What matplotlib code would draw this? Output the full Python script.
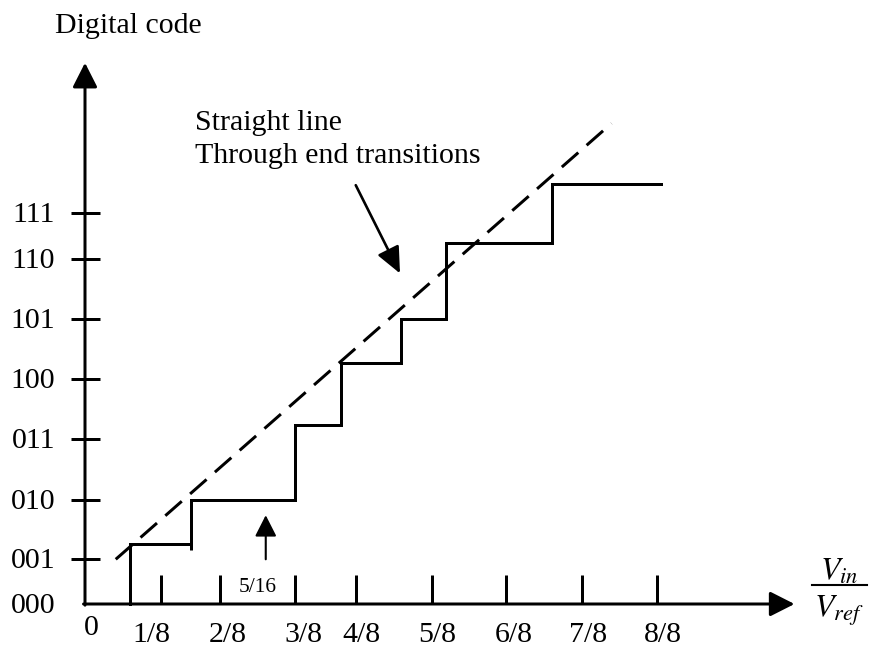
import matplotlib.pyplot as plt

plt.rcParams['font.family'] = ['Liberation Serif', 'DejaVu Serif']
plt.rcParams['mathtext.fontset'] = 'stix'

# units: x in LSB steps (1/8), y in code steps
x_tick_pos = [1.01, 1.80, 2.80, 3.61, 4.62, 5.61, 6.62, 7.62]
x_label_pos = [0.89, 1.91, 2.91, 3.69, 4.69, 5.71, 6.71, 7.71]
x_labels = ['1/8', '2/8', '3/8', '4/8', '5/8', '6/8', '7/8', '8/8']

y_tick_pos = [0.745, 1.733, 2.745, 3.745, 4.75, 5.75, 6.51]
y_labels = ['001', '010', '011', '100', '101', '110', '111']

# staircase transfer curve (hand drawn, so not exactly on the grid)
step_x = [0.60, 1.41, 2.80, 3.41, 4.21, 4.81, 6.22]
step_y = [1.00, 1.73, 2.98, 4.01, 4.75, 6.01, 7.00]
step_end = 7.68

# straight line through end transitions
ideal_x = [0.41, 7.02]
ideal_y = [0.745, 8.01]

x_axis_end = 9.46
y_axis_end = 9.02

LW = 2.16
FS = 21.5

fig = plt.figure(figsize=(8.69, 6.48), dpi=100)
ax = fig.add_axes([0, 0, 1, 1])
ax.set_xlim(-85 / 75, (869 - 85) / 75)
ax.set_ylim(-44 / 60, 604 / 60)
ax.axis('off')

# axes with arrow heads
arrow_kw = dict(arrowstyle='-|>,head_length=0.75,head_width=0.38', lw=LW,
                color='black', mutation_scale=20, shrinkA=0, shrinkB=0)
ax.annotate('', xy=(0, y_axis_end), xytext=(0, -0.02), arrowprops=arrow_kw)
ax.annotate('', xy=(x_axis_end, 0), xytext=(-0.02, 0), arrowprops=arrow_kw)

# tick marks
for xt in x_tick_pos:
    ax.plot([xt, xt], [0, 0.48], color='black', lw=LW, solid_capstyle='butt')
for yt in y_tick_pos:
    ax.plot([-0.19, 0.2], [yt, yt], color='black', lw=LW, solid_capstyle='butt')

# tick labels
for xl, lab in zip(x_label_pos, x_labels):
    ax.text(xl, -0.633, lab, ha='center', va='baseline', fontsize=FS)
ax.text(0.09, -0.517, '0', ha='center', va='baseline', fontsize=FS)
for yt, lab in zip([0] + y_tick_pos, ['000'] + y_labels):
    ax.text(-0.4, yt - 0.15, lab, ha='right', va='baseline', fontsize=FS)

# staircase
xs, ys = [step_x[0]], [0]
for i, (sx, sy) in enumerate(zip(step_x, step_y)):
    if i > 0:
        xs.append(sx)
        ys.append(step_y[i - 1])
    xs.append(sx)
    ys.append(sy)
xs.append(step_end)
ys.append(step_y[-1])
ax.plot(xs, ys, color='black', lw=LW, solid_joinstyle='miter')
# small overshoot at the second riser
ax.plot([step_x[1], step_x[1]], [0.90, step_y[0]], color='black', lw=LW,
        solid_capstyle='butt')

# dashed ideal line
ax.plot(ideal_x, ideal_y, color='black', lw=LW, linestyle=(0, (7.3, 3.7)),
        dash_capstyle='butt')

# 5/16 marker
ax.annotate('', xy=(2.41, 1.48), xytext=(2.41, 0.745),
            arrowprops=dict(arrowstyle='-|>,head_length=0.65,head_width=0.33',
                            lw=1.5, color='black', mutation_scale=20,
                            shrinkA=0, shrinkB=0))
ax.text(2.30, 0.205, '5/16', ha='center', va='baseline', fontsize=15.5)

# annotation pointer
ax.annotate('', xy=(4.20, 5.51), xytext=(3.61, 6.98),
            arrowprops=dict(arrowstyle='-|>,head_length=0.8,head_width=0.36',
                            lw=1.9, color='black', mutation_scale=20,
                            shrinkA=0, shrinkB=0))
ax.text(1.47, 7.90, 'Straight line', ha='left', va='baseline', fontsize=FS)
ax.text(1.47, 7.35, 'Through end transitions', ha='left', va='baseline',
        fontsize=FS)

ax.text(-0.4, 9.51, 'Digital code', ha='left', va='baseline', fontsize=FS)

# V_in / V_ref label
ax.plot([9.69, 10.42], [0.317, 0.317], color='black', lw=1.5)
ax.text(10.05, 0.40, r'$V_{in}$', ha='center', va='baseline', fontsize=23)
ax.text(10.05, -0.21, r'$V_{ref}$', ha='center', va='baseline', fontsize=23)

fig.savefig('out.png', dpi=100)
